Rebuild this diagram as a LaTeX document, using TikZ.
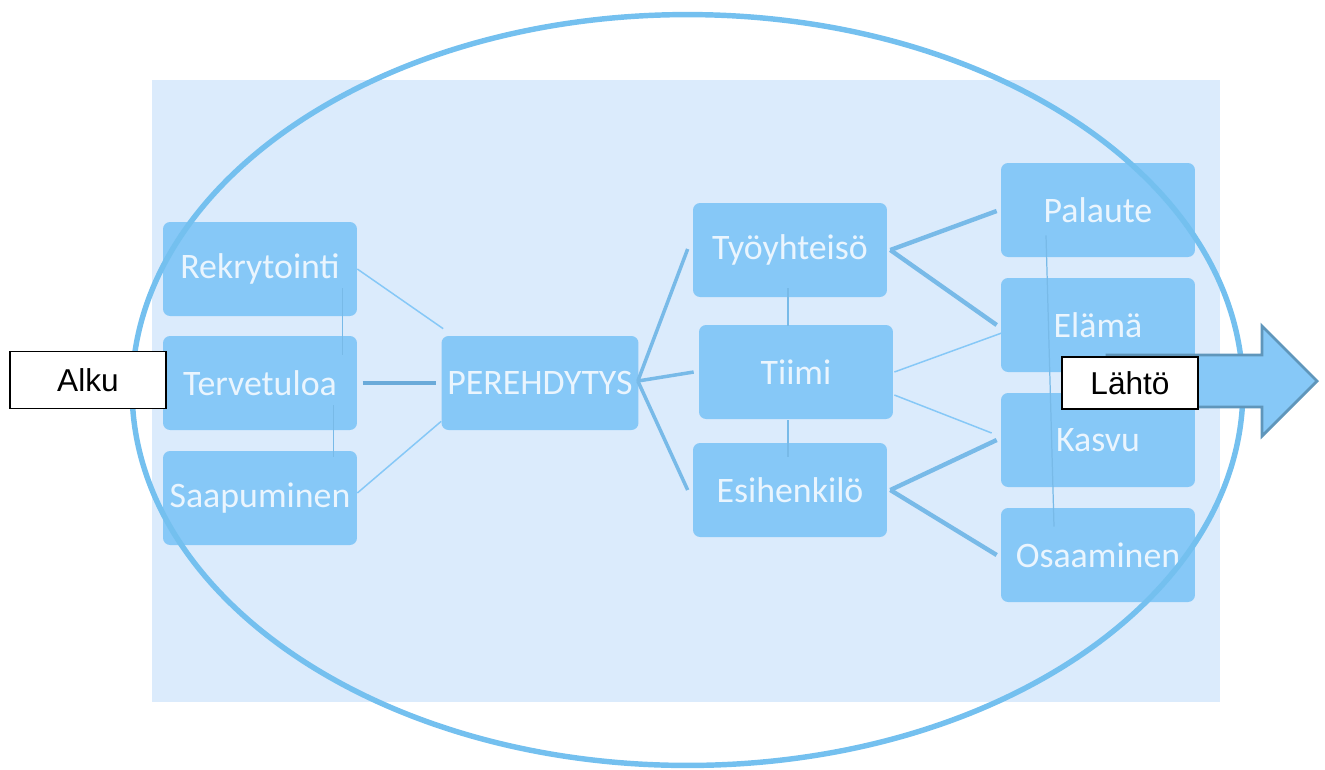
\documentclass[tikz,border=0pt]{standalone}
\usepackage{fontspec}
\setmainfont{Carlito}
\newfontfamily\arialfont{Liberation Sans}
\usepackage{tikz}
\usetikzlibrary{positioning,calc}

\definecolor{bgblue}{HTML}{DBEBFC}
\definecolor{boxblue}{HTML}{86C8F7}
\definecolor{boxtext}{HTML}{EAF5FE}
\definecolor{ringblue}{HTML}{74C0EF}
\definecolor{linkblue}{HTML}{78BAE8}
\definecolor{darklink}{HTML}{6AAAD9}
\definecolor{arrowedge}{HTML}{5F96BB}

\begin{document}
\begin{tikzpicture}[x=0.02cm, y=-0.02cm,
    box/.style={rectangle, rounded corners=4pt, fill=boxblue, text=boxtext, minimum width=3.88cm, minimum height=1.88cm, font=\fontsize{20.4}{24}\selectfont},
    tag/.style={rectangle, draw=black, fill=white, line width=0.8pt, font=\arialfont\fontsize{18}{22}\selectfont},
    faint/.style={draw=boxblue, line width=0.85pt},
    seam/.style={draw=linkblue, line width=0.7pt},
    link/.style={draw=linkblue, line width=2pt},
    heavy/.style={draw=linkblue, line width=2.5pt}
]
\useasboundingbox (0,0) rectangle (1325,769);

% Background
\fill[bgblue] (152,80) rectangle (1220,702);

% Boxes
\node[box] (rek) at (260,269) {Rekrytointi};
\node[box] (ter) at (260,383) {Tervetuloa};
\node[box] (saa) at (260,498) {Saapuminen};
\node[box] (pere) at (540,383) {PEREHDYTYS};
\node[box] (tyo) at (790,250) {Työyhteisö};
\node[box] (tii) at (796,372) {Tiimi};
\node[box] (esi) at (790,490) {Esihenkilö};
\node[box] (pal) at (1098,210) {Palaute};
\node[box] (ela) at (1098,325) {Elämä};
\node[box] (kas) at (1098,440) {Kasvu};
\node[box] (osa) at (1098,555) {Osaaminen};

% Left side
\draw[faint] (rek.east) -- ($(pere.north west)+(2,-7)$);
\draw[faint] ($(saa.east)+(0,-5)$) -- ($(pere.south west)+(0,-9)$);
\draw[draw=darklink, line width=2.5pt, shorten <=3pt, shorten >=3pt] (ter.east) -- (pere.west);
\draw[seam] ($(rek.south east)+(-15,-28)$) -- ($(ter.north east)+(-15,19)$);
\draw[seam] ($(ter.south east)+(-24,-25)$) -- ($(saa.north east)+(-24,6)$);

% Middle
\draw[link] ($(pere.east)+(-1,-2)$) -- ($(tyo.west)+(-5,-1)$);
\draw[link] ($(pere.east)+(-1,-2)$) -- ($(tii.west)+(-5,0)$);
\draw[link] ($(pere.east)+(-1,-2)$) -- ($(esi.west)+(-5,0)$);
\draw[seam] ($(tyo.south)+(-2,-9)$) -- ($(tii.north)+(-8,1)$);
\draw[seam] ($(tii.south)+(-8,1)$) -- ($(esi.north)+(-2,14)$);

% Right side
\draw[heavy] ($(tyo.east)+(3,0)$) -- ($(pal.west)+(-4,1)$);
\draw[heavy] ($(tyo.east)+(3,0)$) -- ($(ela.west)+(-4,0)$);
\draw[heavy] ($(esi.east)+(3,0)$) -- ($(kas.west)+(-4,0)$);
\draw[heavy] ($(esi.east)+(3,0)$) -- ($(osa.west)+(-4,0)$);
\draw[faint] ($(tii.east)+(1,0)$) -- ($(ela.west)+(1,8)$);
\draw[faint] ($(tii.east)+(1,23)$) -- ($(kas.west)+(-9,-7)$);
\draw[seam] ($(pal.south)+(-52,-22)$) -- ($(osa.north)+(-44,19)$);

% Ring
\draw[ringblue, line width=3.1pt] (687.5,390) ellipse [x radius=11.11cm, y radius=7.51cm];

% Exit arrow
\draw[arrowedge, fill=boxblue, line width=1.6pt, line join=miter]
  (1107,355) -- (1262,355) -- (1262,326) -- (1317,381) -- (1262,436) -- (1262,407) -- (1107,407) -- cycle;

% Start and end
\node[tag, minimum width=3.12cm, minimum height=1.14cm] (alku) at (88,380) {Alku};
\node[tag, minimum width=2.72cm, minimum height=1.04cm] (lahto) at (1130,383) {Lähtö\hspace{0.3cm}};

\end{tikzpicture}
\end{document}
